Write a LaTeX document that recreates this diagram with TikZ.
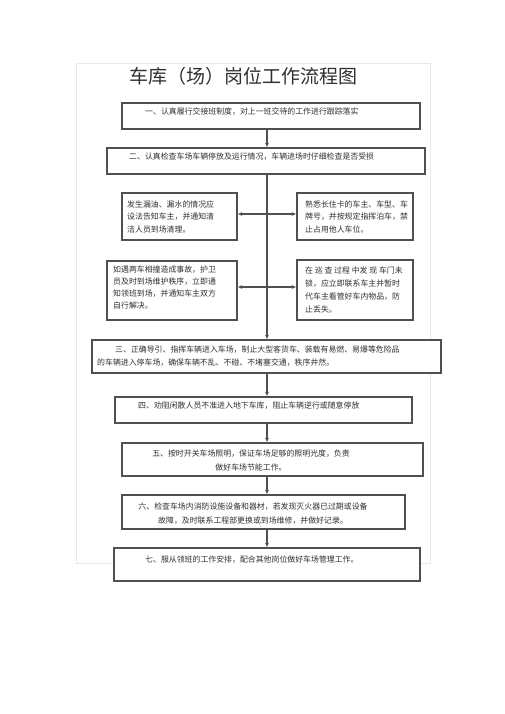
\documentclass[tikz,border=0pt]{standalone}
\usepackage{fontspec}
\setmainfont{Noto Sans CJK SC}
\usetikzlibrary{arrows.meta}
\definecolor{boxgray}{HTML}{505050}
\definecolor{textgray}{HTML}{303030}
\definecolor{pagegray}{HTML}{E8E8E8}
\begin{document}
\begin{tikzpicture}[x=1pt,y=-1pt,
  box/.style={draw=boxgray, line width=1.1pt, inner sep=0pt, fill=white},
  txt/.style={font=\fontsize{7.9}{12.5}\selectfont, inner sep=0pt, text=textgray, align=left},
  arr/.style={draw=boxgray, line width=1.1pt, -{Latex[length=4.5pt,width=4pt]}},
  darr/.style={draw=boxgray, line width=1.1pt, {Latex[length=4.5pt,width=4pt]}-{Latex[length=4.5pt,width=4pt]}}
]
\useasboundingbox (0,0) rectangle (505,714);
\fill[white] (0,0) rectangle (505,714);
% faint page border
\draw[pagegray, line width=0.7pt] (76,63) rectangle (430,563);

% title
\node[font=\fontsize{19}{19}\selectfont, inner sep=0pt, anchor=west, text=textgray] (title) at (129,76) {车库（场）岗位工作流程图};

% spine coordinate
\coordinate (sp) at (267,0);

% boxes
\node[box, minimum width=298, minimum height=26] (b1) at (271,116) {};
\node[box, minimum width=318, minimum height=26] (b2) at (266,161) {};
\node[box, minimum width=115, minimum height=47] (bA) at (179.5,216.5) {};
\node[box, minimum width=116, minimum height=47] (bB) at (355,216.5) {};
\node[box, minimum width=130, minimum height=59] (bC) at (172,290.5) {};
\node[box, minimum width=116, minimum height=60] (bD) at (355,290) {};
\node[box, minimum width=349, minimum height=33] (b3) at (266.5,356.5) {};
\node[box, minimum width=297, minimum height=26] (b4) at (263.5,410) {};
\node[box, minimum width=301, minimum height=33] (b5) at (272.5,459.5) {};
\node[box, minimum width=283, minimum height=34] (b6) at (263.5,512) {};
\node[box, minimum width=306, minimum height=33] (b7) at (267,564.5) {};

% connectors
\draw[arr] (b1.south -| sp) -- (b2.north -| sp);
\draw[arr] (b2.south -| sp) -- (b3.north -| sp);
\draw[arr] (b3.south -| sp) -- (b4.north -| sp);
\draw[arr] (b4.south -| sp) -- (b5.north -| sp);
\draw[arr] (b5.south -| sp) -- (b6.north -| sp);
\draw[arr] (b6.south -| sp) -- (b7.north -| sp);
\draw[darr] ([yshift=2.5pt]bA.east) -- ([yshift=2.5pt]bB.west);
\draw[darr] ([yshift=3.5pt]bC.east) -- ([yshift=3.5pt]bC.east -| bD.west);

% texts
\node[txt, anchor=west] (t1) at (145,112) {一、认真履行交接班制度，对上一班交待的工作进行跟踪落实};
\node[txt, anchor=west] (t2) at (129,157) {二、认真检查车场车辆停放及运行情况，车辆进场时仔细检查是否受损};
\node[txt, anchor=west] (tA) at (127,216.5) {发生漏油、漏水的情况应\\设法告知车主，并通知清\\洁人员到场清理。};
\node[txt, anchor=west] (tB) at (305,216.5) {熟悉长住卡的车主、车型、车\\牌号，并按规定指挥泊车，禁\\止占用他人车位。};
\node[txt, anchor=west, font=\fontsize{7.9}{12.3}\selectfont] (tC) at (113,287.5) {如遇两车相撞造成事故，护卫\\员及时到场维护秩序，立即通\\知领班到场，并通知车主双方\\自行解决。};
\node[txt, anchor=west, font=\fontsize{7.9}{13}\selectfont] (tD) at (305,289.5) {在 巡 查 过程 中发 现 车门未\\锁，应立即联系车主并暂时\\代车主看管好车内物品，防\\止丢失。};
\node[txt, anchor=west, font=\fontsize{7.9}{13}\selectfont] (t3) at (97,356.5) {\hspace*{18pt}三、正确导引、指挥车辆进入车场，制止大型客货车、装载有易燃、易爆等危险品\\的车辆进入停车场，确保车辆不乱、不碰、不堵塞交通，秩序井然。};
\node[txt, anchor=west] (t4) at (138,406) {四、劝阻闲散人员不准进入地下车库，阻止车辆逆行或随意停放};
\node[txt, align=center, font=\fontsize{7.9}{14}\selectfont] (t5) at (251,460) {五、按时开关车场照明，保证车场足够的照明光度，负责\\做好车场节能工作。};
\node[txt, align=center, font=\fontsize{7.9}{14}\selectfont] (t6) at (253,514) {六、检查车场内消防设施设备和器材，若发现灭火器已过期或设备\\故障，及时联系工程部更换或到场维修，并做好记录。};
\node[txt, anchor=west] (t7) at (145,560) {七、服从领班的工作安排，配合其他岗位做好车场管理工作。};
\end{tikzpicture}
\end{document}
